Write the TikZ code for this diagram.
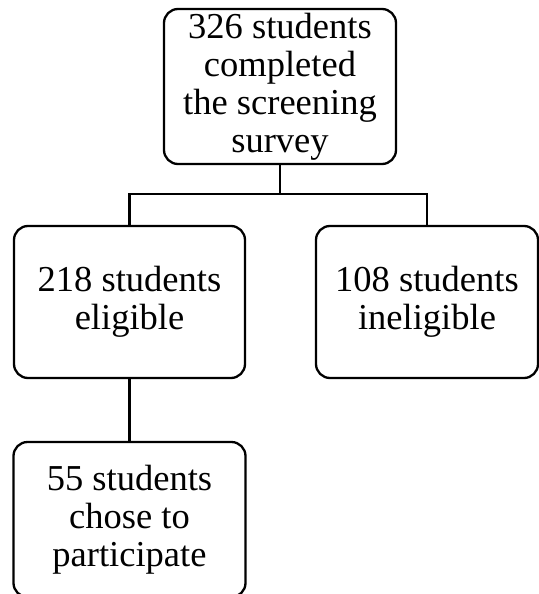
\documentclass[tikz,border=0pt]{standalone}
\usepackage{fontspec}
\setmainfont{Liberation Serif}
\usepackage{tikz}

\begin{document}
\begin{tikzpicture}[x=1pt,y=1pt]
          \tikzstyle{boxs} = [draw, line width=2.3pt, align=center, inner sep=0pt,
            minimum height=155pt, rounded corners=14pt,
            font=\fontsize{36.5}{38}\selectfont]
          \tikzstyle{line} = [draw, line width=2.3pt]

          \useasboundingbox (0,0) rectangle (538,-594);

          \node(Survey)[boxs, minimum width=232pt] at (280,-86.5) {326 students\\completed\\the screening\\survey};

          \tikzset{node distance = 107.5pt}
          \node(split)[coordinate, below of = Survey]{};

          \tikzset{node distance = 215.5pt}
          \node(dummy1)[coordinate, below of = Survey]{};
          \tikzset{node distance = 150.5pt}
          \node(Eligible)[boxs, minimum width=231pt, minimum height=152pt, left of = dummy1]{218 students\\eligible};
          \tikzset{node distance = 147pt}
          \node(Ineligible)[boxs, minimum width=222pt, minimum height=152pt, right of = dummy1]{108 students\\ineligible};

          \tikzset{node distance = 217.5pt}
          \node(Participate)[boxs, minimum width=232pt, below of = Eligible]{55 students\\chose to\\participate};

          \draw[line] (Survey.south) -- (split) -| (Eligible.north);
          \draw[line] (split) -| (Ineligible.north);
          \draw[line] (Eligible.south) -- (Participate.north);
        \end{tikzpicture}
\end{document}
